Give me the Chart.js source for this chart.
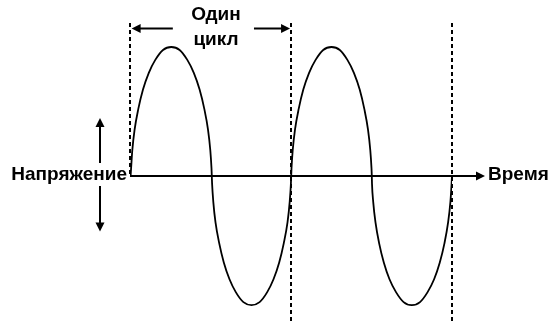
<!DOCTYPE html>
<html>
<head>
<meta charset="utf-8">
<script src="https://cdn.jsdelivr.net/npm/chart.js@4"></script>
<style>
  html, body { margin: 0; padding: 0; background: #fff; }
  canvas { display: block; }
</style>
</head>
<body>
<canvas id="waveChart" width="551" height="328"></canvas>
<script>
// time in cycles, voltage as fraction of peak
const timeValues = [
  0.0037,
  0.0068, 0.0143, 0.0286, 0.0516, 0.0807, 0.1168, 0.1571, 0.2050, 0.2565,
  0.3081, 0.3559, 0.3963, 0.4323, 0.4615, 0.4845, 0.4988, 0.5062, 0.5081,
  0.5099, 0.5174, 0.5311, 0.5540, 0.5826, 0.6180, 0.6571, 0.7043, 0.7547,
  0.8050, 0.8522, 0.8913, 0.9267, 0.9553, 0.9783, 0.9919, 0.9994, 1.0012,
  1.0031, 1.0106, 1.0248, 1.0478, 1.0764, 1.1124, 1.1528, 1.2000, 1.2516,
  1.3031, 1.3503, 1.3907, 1.4267, 1.4553, 1.4783, 1.4925, 1.5000, 1.5019,
  1.5031, 1.5106, 1.5248, 1.5472, 1.5764, 1.6118, 1.6522, 1.6994, 1.7503,
  1.8012, 1.8484, 1.8888, 1.9242, 1.9534, 1.9758, 1.9901, 1.9975, 2.0
];
const voltageValues = [
  0,
  0.06, 0.20, 0.36, 0.52, 0.67, 0.80, 0.90, 0.977, 1,
  0.977, 0.90, 0.80, 0.67, 0.52, 0.36, 0.20, 0.06, 0,
  -0.06, -0.20, -0.36, -0.52, -0.67, -0.80, -0.90, -0.977, -1,
  -0.977, -0.90, -0.80, -0.67, -0.52, -0.36, -0.20, -0.06, 0,
  0.06, 0.20, 0.36, 0.52, 0.67, 0.80, 0.90, 0.977, 1,
  0.977, 0.90, 0.80, 0.67, 0.52, 0.36, 0.20, 0.06, 0,
  -0.06, -0.20, -0.36, -0.52, -0.67, -0.80, -0.90, -0.977, -1,
  -0.977, -0.90, -0.80, -0.67, -0.52, -0.36, -0.20, -0.06, 0
];
const cycleMarks = [0, 1, 2];
const timeLabel = 'Время';
const voltageLabel = 'Напряжение';
const cycleLabel = ['Один', 'цикл'];

const points = timeValues.map((t, i) => ({ x: t, y: voltageValues[i] }));

const FONT = 'bold 19px "Liberation Sans", Arial, sans-serif';

function arrowHead(ctx, x, y, angle) {
  ctx.save();
  ctx.translate(x, y);
  ctx.rotate(angle);
  ctx.beginPath();
  ctx.moveTo(0, 0);
  ctx.lineTo(-9, -4.5);
  ctx.lineTo(-9, 4.5);
  ctx.closePath();
  ctx.fill();
  ctx.restore();
}

const diagramPlugin = {
  id: 'diagram',
  beforeDatasetsDraw(chart) {
    const ctx = chart.ctx;
    const xs = chart.scales.x;
    const ys = chart.scales.y;
    ctx.save();
    // dashed cycle boundaries
    ctx.strokeStyle = '#000';
    ctx.lineWidth = 2;
    ctx.setLineDash([4, 3]);
    cycleMarks.forEach((c, i) => {
      const x = Math.round(xs.getPixelForValue(c));
      ctx.beginPath();
      ctx.moveTo(x, chart.chartArea.top);
      ctx.lineTo(x, i === 0 ? ys.getPixelForValue(0) : chart.chartArea.bottom);
      ctx.stroke();
    });
    ctx.restore();
  },
  afterDatasetsDraw(chart) {
    const ctx = chart.ctx;
    const xs = chart.scales.x;
    const ys = chart.scales.y;
    const y0 = ys.getPixelForValue(0);
    ctx.save();
    ctx.strokeStyle = '#000';
    ctx.fillStyle = '#000';
    ctx.lineWidth = 2;

    // time axis with arrow
    const xStart = xs.getPixelForValue(0);
    const xTip = xs.getPixelForValue(2.205);
    ctx.beginPath();
    ctx.moveTo(xStart, y0);
    ctx.lineTo(xTip - 6, y0);
    ctx.stroke();
    arrowHead(ctx, xTip, y0, 0);

    // voltage double arrow
    const vx = 100;
    const vTop = ys.getPixelForValue(0.45);
    const vBot = ys.getPixelForValue(-0.43);
    ctx.beginPath();
    ctx.moveTo(vx, vTop + 6);
    ctx.lineTo(vx, y0 - 13);
    ctx.moveTo(vx, y0 + 10);
    ctx.lineTo(vx, vBot - 6);
    ctx.stroke();
    arrowHead(ctx, vx, vTop, -Math.PI / 2);
    arrowHead(ctx, vx, vBot, Math.PI / 2);

    // one cycle arrows
    const cy = ys.getPixelForValue(1.143);
    const l1 = xs.getPixelForValue(0.01), l2 = xs.getPixelForValue(0.266);
    const r1 = xs.getPixelForValue(0.77), r2 = xs.getPixelForValue(0.994);
    ctx.beginPath();
    ctx.moveTo(l1 + 6, cy);
    ctx.lineTo(l2, cy);
    ctx.moveTo(r1, cy);
    ctx.lineTo(r2 - 6, cy);
    ctx.stroke();
    arrowHead(ctx, l1, cy, Math.PI);
    arrowHead(ctx, r2, cy, 0);

    // labels
    ctx.font = FONT;
    ctx.textBaseline = 'alphabetic';
    ctx.textAlign = 'left';
    ctx.fillText(timeLabel, xTip + 3, y0 + 4);
    ctx.textAlign = 'right';
    ctx.fillText(voltageLabel, xStart - 3, y0 + 4);
    ctx.textAlign = 'center';
    const mid = (xs.getPixelForValue(0) + xs.getPixelForValue(1)) / 2 + 5.5;
    ctx.fillText(cycleLabel[0], mid, 20);
    ctx.fillText(cycleLabel[1], mid, 45);
    ctx.restore();
  }
};

const ctx = document.getElementById('waveChart').getContext('2d');
const waveChart = new Chart(ctx, {
  type: 'line',
  data: {
    datasets: [{
      data: points,
      borderColor: '#000',
      borderWidth: 1.8,
      pointRadius: 0,
      fill: false,
      cubicInterpolationMode: 'monotone'
    }]
  },
  options: {
    responsive: false,
    animation: false,
    devicePixelRatio: 1,
    layout: { padding: { left: 130, right: 99, top: 23, bottom: 4 } },
    plugins: { legend: { display: false }, tooltip: { enabled: false } },
    scales: {
      x: { type: 'linear', min: 0, max: 2, display: false },
      y: { min: -1.147, max: 1.186, display: false }
    }
  },
  plugins: [diagramPlugin]
});
</script>
</body>
</html>
